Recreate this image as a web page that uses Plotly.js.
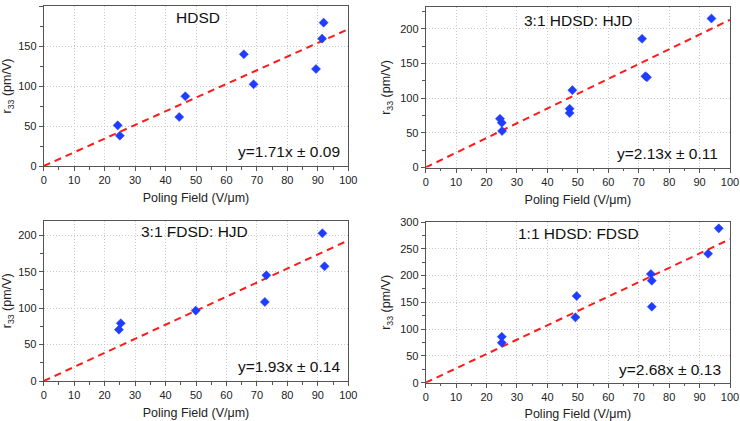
<!DOCTYPE html>
<html>
<head>
<meta charset="utf-8">
<script src="https://cdn.plot.ly/plotly-3.0.1.min.js"></script>
<style>html,body{margin:0;padding:0;background:#fff}#chart{width:740px;height:421px}</style>
</head>
<body>
<div id="chart"></div>
<script>
// Panel titles and fit equations
const panelTitles = ["HDSD", "3:1 HDSD: HJD", "3:1 FDSD: HJD", "1:1 HDSD: FDSD"];
const fitLabels = ["y=1.71x ± 0.09", "y=2.13x ± 0.11", "y=1.93x ± 0.14", "y=2.68x ± 0.13"];
const slopes = [1.71, 2.13, 1.93, 2.68];

// Data: poling field (V/µm) and r33 (pm/V)
const hdsdX = [24.3, 25.0, 44.5, 46.5, 65.7, 68.9, 89.4, 91.4, 91.9];
const hdsdY = [50.8, 37.9, 61.3, 87.1, 139.6, 102.1, 121.3, 159.2, 179.2];

const hdsdHjdX = [24.4, 25.0, 25.1, 47.3, 47.3, 48.2, 71.1, 72.2, 72.7, 93.9];
const hdsdHjdY = [70.3, 64.6, 52.6, 84.7, 78.5, 111.5, 185.6, 131.6, 130.1, 214.8];

const fdsdHjdX = [24.7, 25.3, 49.9, 72.6, 73.1, 91.5, 92.2];
const fdsdHjdY = [70.5, 79.2, 96.6, 108.5, 145.1, 202.7, 157.4];

const hdsdFdsdX = [25.0, 25.0, 49.2, 49.6, 74.0, 74.3, 74.3, 92.8, 96.3];
const hdsdFdsdY = [85.9, 74.7, 122.0, 161.8, 202.9, 190.4, 141.9, 240.8, 288.1];

const fitX = [0, 100];

const xTitle = "Poling Field (V/μm)";
const yTitle = "r<sub>33</sub> (pm/V)";

const seriesX = [hdsdX, hdsdHjdX, fdsdHjdX, hdsdFdsdX];
const seriesY = [hdsdY, hdsdHjdY, fdsdHjdY, hdsdFdsdY];
const yRanges = [[0, 200], [0, 231], [0, 220], [0, 300]];
const yDticks = [50, 50, 50, 50];

const W = 740, H = 421;
// pixel boxes: [left, right, top, bottom]
const boxes = [
  [43.7, 348.3, 6, 166],
  [425.7, 730, 7.3, 167.5],
  [43.7, 348.3, 220.7, 381],
  [425.7, 730, 222, 382.7]
];

const traces = [];
const layout = {
  width: W, height: H,
  margin: {l: 0, r: 0, t: 0, b: 0},
  paper_bgcolor: "#fff", plot_bgcolor: "#fff",
  showlegend: false,
  font: {family: "Liberation Sans, Arial, sans-serif", color: "#222", size: 11},
  annotations: []
};

for (let i = 0; i < 4; i++) {
  const s = i === 0 ? "" : String(i + 1);
  const xa = "x" + s, ya = "y" + s;
  const b = boxes[i];
  const fitY = fitX.map(v => v * slopes[i]);
  traces.push({
    x: fitX, y: fitY, xaxis: xa, yaxis: ya, mode: "lines", type: "scatter",
    line: {color: "#ff1a1a", width: 2, dash: "7px,5px"}, hoverinfo: "skip"
  });
  traces.push({
    x: seriesX[i], y: seriesY[i], xaxis: xa, yaxis: ya, mode: "markers", type: "scatter",
    marker: {symbol: "diamond", size: 7, color: "#1f3dff", line: {width: 0.5, color: "#1f3dff"}}
  });
  const axCommon = {
    showline: true, mirror: true, linecolor: "#555", linewidth: 1,
    ticks: "outside", ticklen: 4, tickcolor: "#555", tickwidth: 1,
    showgrid: true, gridcolor: "#c8c8c8", griddash: "1px,2px", gridwidth: 1,
    zeroline: false, tickfont: {size: 11, color: "#222"}
  };
  layout["xaxis" + s] = Object.assign({}, axCommon, {
    domain: [b[0] / W, b[1] / W], range: [0, 100], dtick: 10, anchor: ya,
    minor: {ticks: "outside", dtick: 5, ticklen: 2.5, tickcolor: "#555", showgrid: false},
    title: {text: xTitle, font: {size: 12.5, color: "#222"}, standoff: 8}
  });
  layout["yaxis" + s] = Object.assign({}, axCommon, {
    domain: [1 - b[3] / H, 1 - b[2] / H], range: yRanges[i], dtick: yDticks[i], anchor: xa,
    minor: {ticks: "outside", dtick: 25, ticklen: 2.5, tickcolor: "#555", showgrid: false},
    title: {text: yTitle, font: {size: 12.5, color: "#222"}, standoff: 6}
  });
}

// Panel title and equation positions (pixels)
const titlePos = [[198, 17], [578, 21], [195, 232], [578, 234]];
const eqPos = [[342, 151], [720, 153], [342, 366], [723, 369]];
for (let i = 0; i < 4; i++) {
  layout.annotations.push({
    xref: "paper", yref: "paper", x: titlePos[i][0] / W, y: 1 - titlePos[i][1] / H,
    text: panelTitles[i], showarrow: false, xanchor: "center", yanchor: "middle",
    font: {size: 15.5, color: "#111"}
  });
  layout.annotations.push({
    xref: "paper", yref: "paper", x: eqPos[i][0] / W, y: 1 - eqPos[i][1] / H,
    text: fitLabels[i], showarrow: false, xanchor: "right", yanchor: "middle",
    font: {size: 15.5, color: "#111"}
  });
}

Plotly.newPlot("chart", traces, layout, {staticPlot: true, displayModeBar: false});
</script>
</body>
</html>
